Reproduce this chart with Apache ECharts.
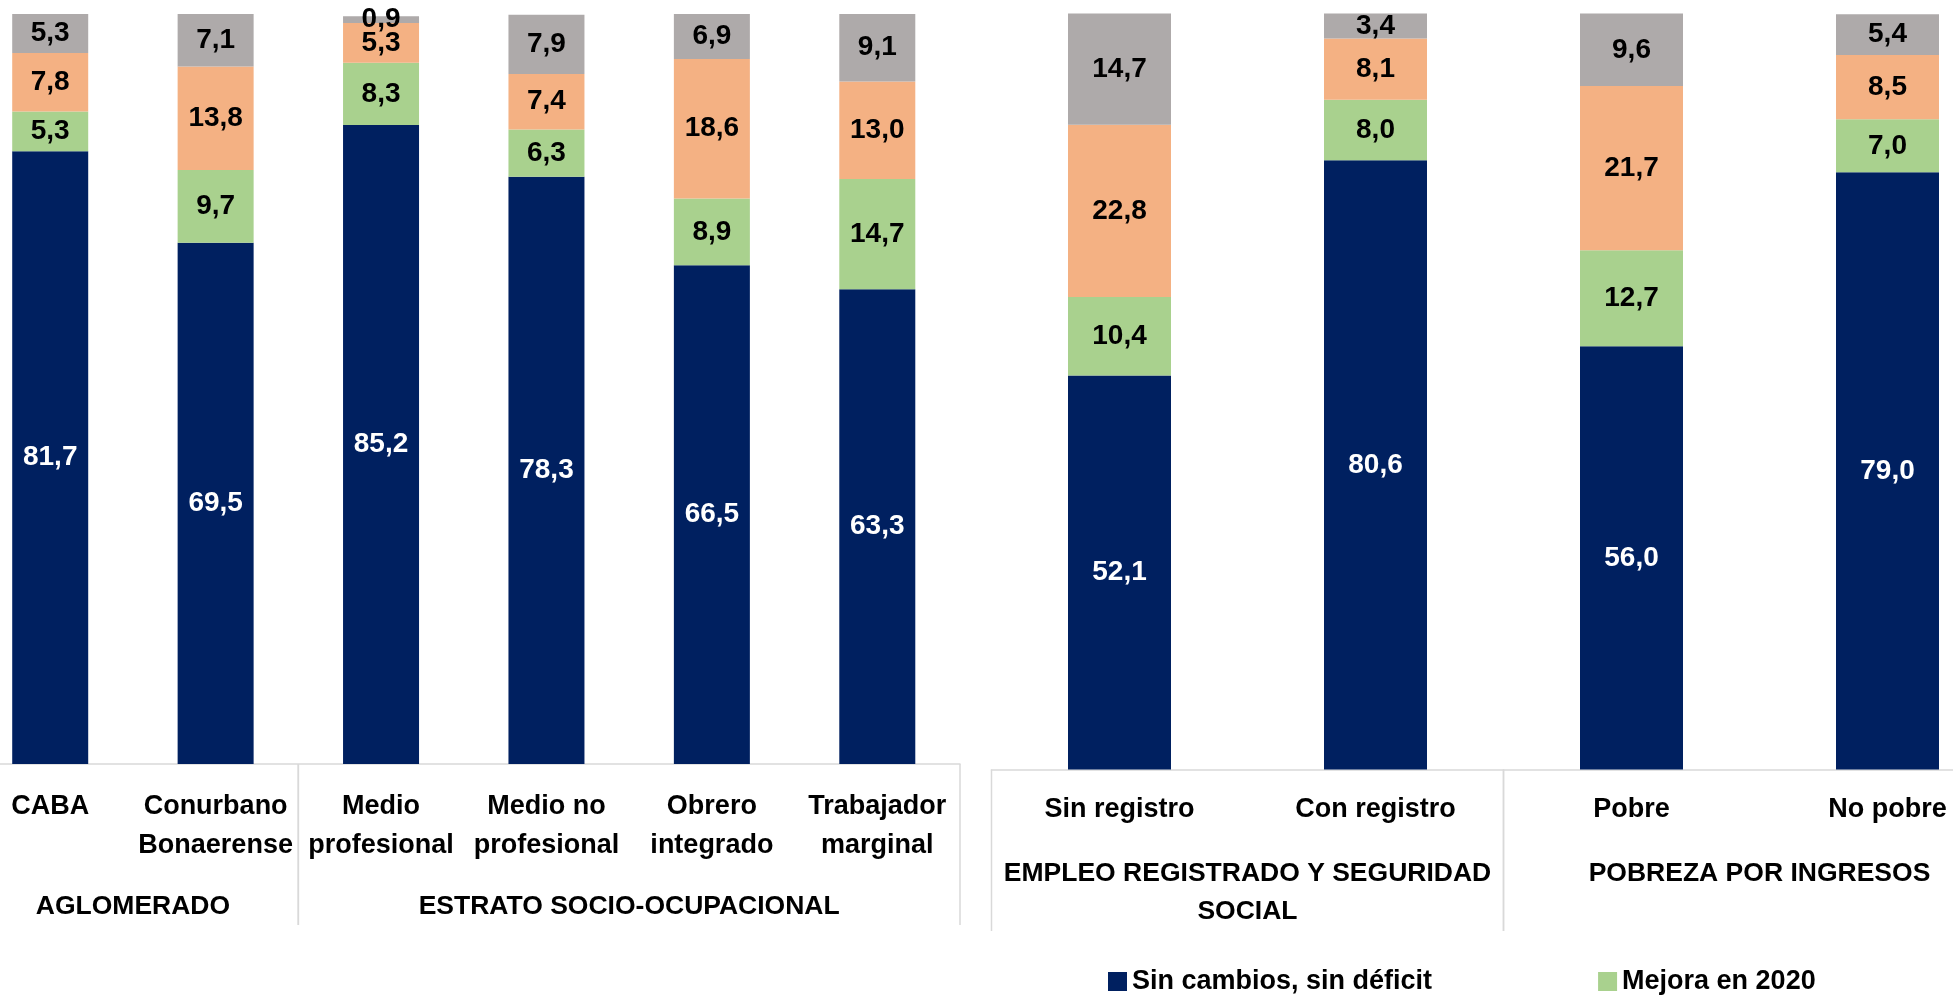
<!DOCTYPE html>
<html>
<head>
<meta charset="utf-8">
<title>Chart</title>
<script src="https://cdn.jsdelivr.net/npm/echarts@6/dist/echarts.min.js"></script>
<style>
  html, body { margin: 0; padding: 0; background: #ffffff; }
  #chart { width: 1953px; height: 995px; }
</style>
</head>
<body>
<div id="chart"></div>
<script>
// datos del panel izquierdo
const leftCategories = ['CABA', 'Conurbano\nBonaerense', 'Medio\nprofesional', 'Medio no\nprofesional', 'Obrero\nintegrado', 'Trabajador\nmarginal'];
const leftSinCambios = [81.7, 69.5, 85.2, 78.3, 66.5, 63.3];
const leftMejora = [5.3, 9.7, 8.3, 6.3, 8.9, 14.7];
const leftEmpeora = [7.8, 13.8, 5.3, 7.4, 18.6, 13.0];
const leftConDeficit = [5.3, 7.1, 0.9, 7.9, 6.9, 9.1];

// datos del panel derecho
const rightCategories = ['Sin registro', 'Con registro', 'Pobre', 'No pobre'];
const rightSinCambios = [52.1, 80.6, 56.0, 79.0];
const rightMejora = [10.4, 8.0, 12.7, 7.0];
const rightEmpeora = [22.8, 8.1, 21.7, 8.5];
const rightConDeficit = [14.7, 3.4, 9.6, 5.4];

const seriesNames = ['Sin cambios, sin déficit', 'Mejora en 2020', 'Empeora en 2020', 'Sin cambios, con déficit'];
const colors = ['#002060', '#a9d18e', '#f4b183', '#aeaaaa'];

// grupos de categorias: [texto, primera categoria, ultima categoria]
const leftGroups = [['AGLOMERADO', 0, 1], ['ESTRATO SOCIO-OCUPACIONAL', 2, 5]];
const rightGroups = [['EMPLEO REGISTRADO Y SEGURIDAD\nSOCIAL', 0, 1], ['POBREZA POR INGRESOS', 2, 3]];

const FONT = '"Liberation Sans", Arial, sans-serif';
const gridL = { left: -32.5, top: 14, width: 992.5, height: 750 };
const gridR = { left: 991.5, top: 13.5, width: 1024, height: 756 };

let chart = echarts.init(document.getElementById('chart'));

function fmt(p) {
  return p.value.toFixed(1).replace('.', ',');
}

function makeSeries(idx, names, datasets, barWidth) {
  return datasets.map((d, i) => ({
    name: names[i],
    type: 'bar',
    stack: 'st' + idx,
    xAxisIndex: idx,
    yAxisIndex: idx,
    barWidth: barWidth,
    itemStyle: { color: colors[i] },
    label: {
      show: true,
      position: 'inside',
      formatter: fmt,
      fontSize: 28,
      fontWeight: 'bold',
      fontFamily: FONT,
      color: i === 0 ? '#ffffff' : '#000000'
    },
    data: d
  }));
}

function xAxisOf(idx, cats, margin) {
  return {
    type: 'category',
    gridIndex: idx,
    data: cats,
    axisLine: { lineStyle: { color: '#d9d9d9', width: 1.5 } },
    axisTick: { show: false },
    axisLabel: {
      interval: 0,
      margin: margin,
      fontSize: 27,
      fontWeight: 'bold',
      fontFamily: FONT,
      color: '#000000',
      lineHeight: 39
    }
  };
}

// separadores y etiquetas de grupo
function groupGraphics(g, groups, nCats, labelY, lineTop, lineBottom) {
  const step = g.width / nCats;
  const out = [];
  groups.forEach(gr => {
    const x0 = g.left + gr[1] * step;
    const x1 = g.left + (gr[2] + 1) * step;
    out.push({
      type: 'text',
      x: (x0 + x1) / 2,
      y: labelY,
      style: {
        text: gr[0],
        fontSize: 26.5,
        fontWeight: 'bold',
        fontFamily: FONT,
        fill: '#000000',
        align: 'center',
        verticalAlign: 'top',
        lineHeight: 38
      }
    });
    [x0, x1].forEach(x => {
      out.push({
        type: 'line',
        shape: { x1: x, y1: lineTop, x2: x, y2: lineBottom },
        style: { stroke: '#d9d9d9', lineWidth: 1.5 }
      });
    });
  });
  return out;
}

let option = {
  animation: false,
  legend: {
    data: seriesNames.slice(0, 2),
    left: 1108,
    top: 968,
    padding: 0,
    itemWidth: 19,
    itemHeight: 19,
    itemGap: 166,
    icon: 'rect',
    textStyle: { fontSize: 27, fontWeight: 'bold', fontFamily: FONT, color: '#000000' }
  },
  grid: [
    Object.assign({ containLabel: false, outerBoundsMode: 'none' }, gridL),
    Object.assign({ containLabel: false, outerBoundsMode: 'none' }, gridR)
  ],
  xAxis: [
    xAxisOf(0, leftCategories, 23),
    xAxisOf(1, rightCategories, 21)
  ],
  yAxis: [
    { type: 'value', gridIndex: 0, min: 0, max: 100, show: false },
    { type: 'value', gridIndex: 1, min: 0, max: 100, show: false }
  ],
  graphic: groupGraphics(gridL, leftGroups, leftCategories.length, 888, 764, 925)
    .concat(groupGraphics(gridR, rightGroups, rightCategories.length, 855, 769.5, 931)),
  series: makeSeries(0, seriesNames, [leftSinCambios, leftMejora, leftEmpeora, leftConDeficit], 76)
    .concat(makeSeries(1, seriesNames, [rightSinCambios, rightMejora, rightEmpeora, rightConDeficit], 103))
};

chart.setOption(option);
</script>
</body>
</html>
